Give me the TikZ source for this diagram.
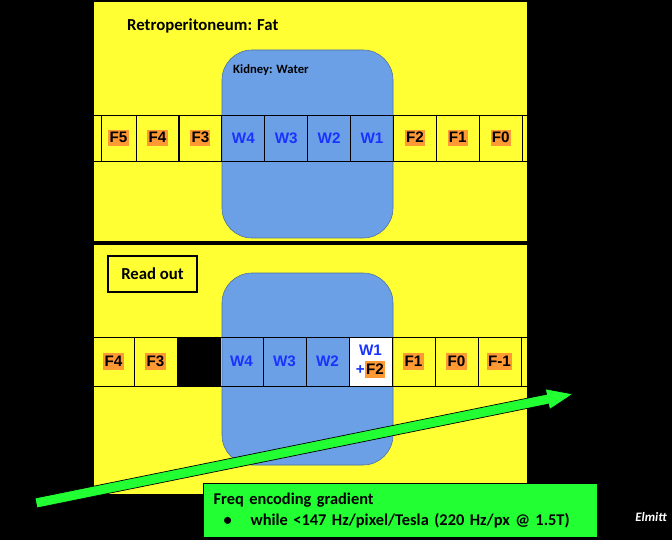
\documentclass[tikz,border=0pt]{standalone}
\usepackage{fontspec}
\setmainfont{Carlito}
\newfontfamily\cellfont{Liberation Sans}
\usetikzlibrary{positioning, calc}
\definecolor{fatyellow}{RGB}{255,255,51}
\definecolor{waterblue}{RGB}{108,160,230}
\definecolor{waterink}{RGB}{25,50,255}
\definecolor{fatorange}{RGB}{255,153,51}
\definecolor{gradgreen}{RGB}{34,255,51}
\newcommand{\fatlab}[1]{{\setlength{\fboxsep}{1pt}\colorbox{fatorange}{\color{black}\rule[-0.15em]{0pt}{0.95em}#1}}}

\begin{document}
\begin{tikzpicture}[x=0.03cm, y=-0.03cm,
    panel/.style={draw=black, line width=1.2pt, fill=fatyellow},
    kidney/.style={draw=waterblue!70!black, line width=0.5pt, fill=waterblue, rounded corners=0.9cm},
    band/.style={draw=black, line width=0.8pt},
    cell/.style={draw=black, line width=0.8pt, minimum width=1.29cm, inner sep=0pt,
                 align=center, font=\cellfont\bfseries\fontsize{13}{16}\selectfont},
    water/.style={cell, text=waterink},
    tissue/.style={font=\bfseries\fontsize{14.3}{17}\selectfont},
]

% Background
\fill[black] (0,0) rectangle (672,540);
\useasboundingbox (0,0) rectangle (672,540);

% Panels
\draw[panel] (93,1) rectangle (528,242);
\draw[panel] (93,244) rectangle (528,495);
\draw[kidney] (222,50) rectangle (393,238);
\draw[kidney] (222,273) rectangle (393,465);

\node[tissue, inner sep=0pt, anchor=base west] (fat) at (127,31) {Retroperitoneum: Fat};
\node[font=\bfseries\fontsize{10.8}{13}\selectfont, inner sep=0pt, anchor=base west] (kid) at (233,74) {Kidney: Water};

% Top row: before read out
\draw[band] (93,115) rectangle (528,161);
\node[cell, minimum height=1.38cm, minimum width=1.05cm] (tF5) at (118.5,138) {\fatlab{F5}};
\foreach \lab/\i in {F4/0,F3/1,F2/6,F1/7,F0/8}
    \node[cell, minimum height=1.38cm] (t\lab) at (157.5+42.9*\i,138) {\fatlab{\lab}};
\foreach \lab/\i in {W4/2,W3/3,W2/4,W1/5}
    \node[water, minimum height=1.38cm] (t\lab) at (157.5+42.9*\i,138) {\lab};

% Bottom row: after read out
\node[tissue, draw=black, line width=1.5pt, minimum width=2.67cm, minimum height=1.08cm] (readout) at (152.5,274) {Read out};
\draw[band] (93,337) rectangle (528,386);
\node[cell, minimum height=1.47cm, minimum width=1.23cm] (bF4) at (113.5,361.5) {\fatlab{F4}};
\foreach \lab/\i in {F3/0,F1/6,F0/7,F-1/8}
    \node[cell, minimum height=1.47cm] (b\i) at (155.5+43*\i,361.5) {\fatlab{\lab}};
\node[cell, fill=black, minimum height=1.47cm] (bgap) at (155.5+43,361.5) {};
\foreach \lab/\i in {W4/2,W3/3,W2/4}
    \node[water, minimum height=1.47cm] (b\i) at (155.5+43*\i,361.5) {\lab};
\node[water, fill=white, minimum height=1.47cm] (bmix) at (155.5+43*5,361.5) {W1\\+\fatlab{F2}};

% Gradient arrow
\draw[black, line width=0.6pt, fill=gradgreen] (35,498.1) -- (546.5,394.3) -- (545.4,388.9)
    -- (573,394) -- (549.6,409.5) -- (548.5,404.1) -- (37,507.9) -- cycle;

\node[draw=black, line width=1pt, fill=gradgreen, anchor=north west, minimum width=11.82cm,
      minimum height=1.62cm, inner xsep=8.5pt, text width=11.22cm, align=left,
      font=\bfseries\fontsize{14}{17.7}\selectfont] (grad) at (203,483)
    {Freq encoding gradient\\\makebox[31.6pt][l]{\hspace*{8.5pt}\textbullet}while <147 Hz/pixel/Tesla (220 Hz/px @ 1.5T)};

\node[text=white, inner sep=0pt, font=\bfseries\itshape\fontsize{11}{12}\selectfont] (sig) at (651,517) {Elmitt};

\end{tikzpicture}
\end{document}
